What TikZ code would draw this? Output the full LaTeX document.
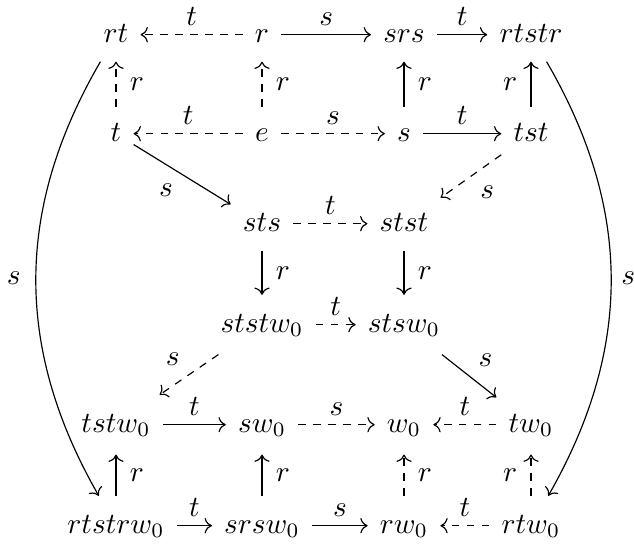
\documentclass[tikz,border=0pt]{standalone}
\usetikzlibrary{cd}
\begin{document}
\begin{tikzpicture}[x=0.3413pt,y=-0.3413pt,
  obj/.style={inner xsep=4pt, inner ysep=3pt, text height=8.5pt, text depth=3.5pt, anchor=base},
  objw/.style={obj, text height=9.5pt, text depth=4.5pt},
  ar/.style={-{cm to}, line width=0.4pt},
  da/.style={ar, dash pattern=on 2.6pt off 2.5pt},
  lab/.style={inner sep=3pt},
]
\useasboundingbox (0,0) rectangle (634,544);
\node[obj] (rt) at (116,42) {$rt$};
\node[obj] (r) at (262,42) {$r$};
\node[obj] (srs) at (404,42) {$srs$};
\node[obj] (rtstr) at (531,42) {$rtstr$};
\node[obj] (t) at (116,141) {$t$};
\node[obj] (e) at (262,141) {$e$};
\node[obj] (s) at (404,141) {$s$};
\node[obj] (tst) at (531,141) {$tst$};
\node[obj] (sts) at (262,231) {$sts$};
\node[obj] (stst) at (404,231) {$stst$};
\node[objw] (ststw) at (262,332) {$ststw_0$};
\node[objw] (stsw) at (404,332) {$stsw_0$};
\node[objw] (tstw) at (116,432) {$tstw_0$};
\node[objw] (sw) at (262,432) {$sw_0$};
\node[objw] (w) at (404,432) {$w_0$};
\node[objw] (tw) at (531,432) {$tw_0$};
\node[objw] (rtstrw) at (116,533) {$rtstrw_0$};
\node[objw] (srsw) at (262,533) {$srsw_0$};
\node[objw] (rw) at (404,533) {$rw_0$};
\node[objw] (rtw) at (531,533) {$rtw_0$};

\draw[da] (r) -- node[lab,above]{$t$} (rt);
\draw[ar] (r) -- node[lab,above]{$s$} (srs);
\draw[ar] (srs) -- node[lab,above]{$t$} (rtstr);
\draw[da] (t) -- node[lab,right=1.5pt]{$r$} (rt);
\draw[da] (e) -- node[lab,right=1.5pt]{$r$} (r);
\draw[ar] (s) -- node[lab,right=1.5pt]{$r$} (srs);
\draw[ar] (tst) -- node[lab,left=1.5pt]{$r$} (rtstr);
\draw[da] (e) -- node[lab,above]{$t$} (t);
\draw[da] (e) -- node[lab,above]{$s$} (s);
\draw[ar] (s) -- node[lab,above]{$t$} (tst);
\draw[ar] (t) -- node[lab,below left]{$s$} (sts);
\draw[da] (tst) -- node[lab,below right]{$s$} (stst);
\draw[da] (sts) -- node[lab,above]{$t$} (stst);
\draw[ar] (sts) -- node[lab,right=1.5pt]{$r$} (ststw);
\draw[ar] (stst) -- node[lab,right=1.5pt]{$r$} (stsw);
\draw[da] (ststw) -- node[lab,above]{$t$} (stsw);
\draw[da] (ststw) -- node[lab,above left]{$s$} (tstw);
\draw[ar] (stsw) -- node[lab,above right]{$s$} (tw);
\draw[ar] (tstw) -- node[lab,above]{$t$} (sw);
\draw[da] (sw) -- node[lab,above]{$s$} (w);
\draw[da] (tw) -- node[lab,above]{$t$} (w);
\draw[ar] (rtstrw) -- node[lab,right=1.5pt]{$r$} (tstw);
\draw[ar] (srsw) -- node[lab,right=1.5pt]{$r$} (sw);
\draw[da] (rw) -- node[lab,right=1.5pt]{$r$} (w);
\draw[da] (rtw) -- node[lab,left=1.5pt]{$r$} (tw);
\draw[ar] (rtstrw) -- node[lab,above]{$t$} (srsw);
\draw[ar] (srsw) -- node[lab,above]{$s$} (rw);
\draw[da] (rtw) -- node[lab,above]{$t$} (rw);
\draw[ar] (rt) to[bend right=30] node[lab,left=2pt]{$s$} (rtstrw);
\draw[ar] (rtstr) to[bend left=30] node[lab,right=0.3pt]{$s$} (rtw);
\end{tikzpicture}
\end{document}
